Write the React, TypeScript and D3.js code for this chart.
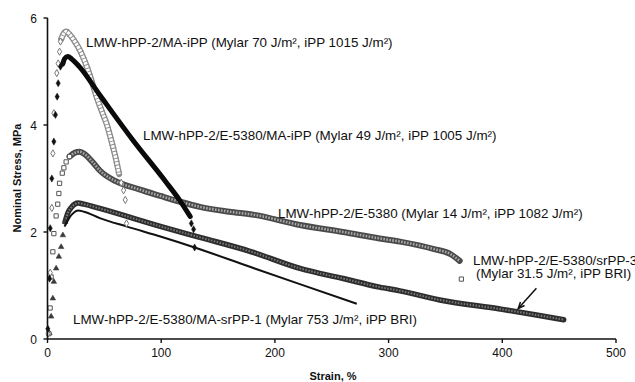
import React from 'react';
import * as d3 from 'd3';

type Pt = [number, number];

const W = 635;
const H = 382;

const strainTicks = [0, 100, 200, 300, 400, 500];
const stressTicks = [0, 2, 4, 6];

// LMW-hPP-2/MA-iPP — open diamonds
const maIppRise: Pt[] = [[0.5, 0.1], [2.4, 1.24], [3.8, 2.45], [4.7, 3.47], [5.6, 4.22], [8.2, 4.97], [9.4, 5.15], [10.6, 5.37], [11.4, 5.56]];
const maIppCurve: Pt[] = [[12, 5.6], [14, 5.7], [16.4, 5.75], [20, 5.68], [24, 5.56], [28, 5.42], [33, 5.18], [38, 4.88], [42, 4.6], [47, 4.3], [52, 4.02], [56, 3.72], [60, 3.38], [63, 3.08]];
const maIppTail: Pt[] = [[64.8, 2.92], [66.9, 2.78], [68.4, 2.6], [69.5, 2.16]];

// LMW-hPP-2/E-5380/MA-iPP — filled diamonds
const e5380MaIppRise: Pt[] = [[0.3, 0.19], [1.8, 1.13], [2.4, 2.07], [3.8, 3.0], [5.6, 3.69], [7.0, 4.19], [8.5, 4.53], [9.4, 4.78], [11.4, 5.09], [13.5, 5.15]];
const e5380MaIppCurve: Pt[] = [[13.5, 5.15], [15, 5.24], [17.9, 5.28], [21, 5.24], [28, 5.09], [46, 4.56], [75, 3.72], [104, 2.94], [116, 2.6], [125.5, 2.29]];
const e5380MaIppTail: Pt[] = [[126.5, 2.16], [128.5, 2.05], [129.4, 1.71]];

// LMW-hPP-2/E-5380 — open squares
const e5380Rise: Pt[] = [[1.2, 0.1], [2.3, 0.58], [3.2, 1.16], [4.7, 1.63], [5.6, 1.97], [7.6, 2.3], [9, 2.52], [10, 2.72], [10.6, 2.91], [13, 3.1], [14.4, 3.2], [16.4, 3.31], [19.4, 3.41]];
const e5380Curve: Pt[] = [[19.4, 3.41], [24, 3.48], [28, 3.5], [33, 3.45], [40, 3.3], [46, 3.15], [60, 2.95], [80, 2.8], [100, 2.67], [116, 2.57], [134, 2.47], [160, 2.38], [182, 2.32], [222, 2.13], [260, 2.0], [292, 1.88], [310, 1.82], [340, 1.68], [355, 1.58], [362.5, 1.46]];
const e5380Tail: Pt[] = [[364, 1.12]];

// LMW-hPP-2/E-5380/srPP-3 — open triangles
const srPP3Rise: Pt[] = [[1.7, 0.11], [3.2, 0.42], [4.7, 0.76], [5.6, 1.07], [7.6, 1.32], [10, 1.54], [12, 1.72], [13.5, 1.94], [15.5, 2.19]];
const srPP3Curve: Pt[] = [[15.5, 2.19], [18, 2.36], [21, 2.46], [24, 2.52], [27, 2.54], [32, 2.52], [46, 2.44], [100, 2.1], [134, 1.9], [178, 1.64], [222, 1.32], [260, 1.13], [292, 0.97], [310, 0.9], [345, 0.73], [398, 0.56], [430, 0.45], [454, 0.36]];

// LMW-hPP-2/E-5380/MA-srPP-1 — plain line
const maSrPP1Curve: Pt[] = [[15, 2.1], [19, 2.26], [23, 2.36], [27, 2.4], [32, 2.38], [46, 2.26], [70, 2.1], [100, 1.91], [129.4, 1.71], [178, 1.35], [220, 1.04], [272, 0.66]];

const seriesLabels = [
  { text: 'LMW-hPP-2/MA-iPP (Mylar 70 J/m², iPP 1015 J/m²)', x: 86, y: 47 },
  { text: 'LMW-hPP-2/E-5380/MA-iPP (Mylar 49 J/m², iPP 1005 J/m²)', x: 143, y: 140 },
  { text: 'LMW-hPP-2/E-5380 (Mylar 14 J/m², iPP 1082 J/m²)', x: 278, y: 218 },
  { text: 'LMW-hPP-2/E-5380/srPP-3', x: 473, y: 265 },
  { text: '(Mylar 31.5 J/m², iPP BRI)', x: 476, y: 278 },
  { text: 'LMW-hPP-2/E-5380/MA-srPP-1 (Mylar 753 J/m², iPP BRI)', x: 73, y: 324 },
];

// arrow from the srPP-3 label down to its curve, in data units
const arrowFrom: Pt = [430, 0.95];
const arrowTo: Pt = [414, 0.57];

const FONT = "'Liberation Sans', Arial, Helvetica, sans-serif";

export default function App() {
  const x = d3.scaleLinear().domain([0, 500]).range([47.5, 616]);
  const y = d3.scaleLinear().domain([0, 6]).range([339, 18]);

  const line = d3
    .line<Pt>()
    .x((d) => x(d[0]))
    .y((d) => y(d[1]))
    .curve(d3.curveMonotoneX);

  const diamond = d3.symbol(d3.symbolDiamond, 15)()!;
  const square = d3.symbol(d3.symbolSquare, 18)()!;
  const triangle = d3.symbol(d3.symbolTriangle, 13)()!;

  const marks = (pts: Pt[], path: string, fill: string, stroke: string, sw = 1) =>
    pts.map((d, i) => (
      <path key={i} d={path} transform={`translate(${x(d[0])},${y(d[1])})`} fill={fill} stroke={stroke} strokeWidth={sw} />
    ));

  const [ax1, ay1] = [x(arrowFrom[0]), y(arrowFrom[1])];
  const [ax2, ay2] = [x(arrowTo[0]), y(arrowTo[1])];
  const ang = Math.atan2(ay2 - ay1, ax2 - ax1);
  const head = 7;
  const headPts = [
    [ax2 - head * Math.cos(ang - 0.4), ay2 - head * Math.sin(ang - 0.4)],
    [ax2, ay2],
    [ax2 - head * Math.cos(ang + 0.4), ay2 - head * Math.sin(ang + 0.4)],
  ];

  return (
    <svg width={W} height={H} style={{ position: 'absolute', left: 0, top: 0, background: '#fff' }} fontFamily={FONT}>
      {/* srPP-3: dense triangles */}
      <path d={line(srPP3Curve)!} fill="none" stroke="#2e2e2e" strokeWidth={5.5} strokeLinecap="round" />
      <path d={line(srPP3Curve)!} fill="none" stroke="#7a7a7a" strokeWidth={2} strokeDasharray="1.5 1.5" />
      {marks(srPP3Rise, triangle, '#3a3a3a', '#3a3a3a', 0.6)}

      {/* MA-srPP-1: plain line */}
      <path d={line(maSrPP1Curve)!} fill="none" stroke="#111" strokeWidth={2} />

      {/* E-5380: dense squares */}
      <path d={line(e5380Curve)!} fill="none" stroke="#4a4a4a" strokeWidth={6} strokeLinecap="round" />
      <path d={line(e5380Curve)!} fill="none" stroke="#a8a8a8" strokeWidth={2.6} strokeDasharray="1.6 1.4" />
      {marks(e5380Rise, square, '#fff', '#555', 1)}
      {marks(e5380Tail, square, '#fff', '#555', 1)}

      {/* MA-iPP: dense open diamonds */}
      <path d={line(maIppCurve)!} fill="none" stroke="#8a8a8a" strokeWidth={6} strokeLinecap="round" />
      <path d={line(maIppCurve)!} fill="none" stroke="#fff" strokeWidth={3.4} />
      <path d={line(maIppCurve)!} fill="none" stroke="#8a8a8a" strokeWidth={6} strokeDasharray="0.9 2.6" />
      {marks(maIppRise, diamond, '#fff', '#777', 1)}
      {marks(maIppTail, diamond, '#fff', '#777', 1)}

      {/* E-5380/MA-iPP: dense filled diamonds */}
      <path d={line(e5380MaIppCurve)!} fill="none" stroke="#0a0a0a" strokeWidth={5} strokeLinecap="round" />
      {marks(e5380MaIppRise, diamond, '#111', '#111', 0.5)}
      {marks(e5380MaIppTail, diamond, '#111', '#111', 0.5)}

      {/* axes */}
      <line x1={x(0)} x2={x(500)} y1={y(0)} y2={y(0)} stroke="#111" strokeWidth={1.6} />
      <line x1={x(0)} x2={x(0)} y1={y(0)} y2={y(6)} stroke="#111" strokeWidth={1.6} />
      {strainTicks.map((t) => (
        <g key={`xt${t}`}>
          <line x1={x(t)} x2={x(t)} y1={y(0)} y2={y(0) + 4} stroke="#111" strokeWidth={1.4} />
          <text x={x(t)} y={357} textAnchor="middle" fontSize={12} fill="#111">{t}</text>
        </g>
      ))}
      {stressTicks.map((t) => (
        <g key={`yt${t}`}>
          <line x1={x(0) - 4} x2={x(0)} y1={y(t)} y2={y(t)} stroke="#111" strokeWidth={1.4} />
          <text x={37} y={y(t) + 4.5} textAnchor="end" fontSize={12} fill="#111">{t}</text>
        </g>
      ))}
      <text x={333} y={380} textAnchor="middle" fontSize={11} fontWeight="bold" fill="#111">Strain, %</text>
      <text transform={`translate(21,${178}) rotate(-90)`} textAnchor="middle" fontSize={11} fontWeight="bold" fill="#111">Nominal Stress, MPa</text>

      {/* series labels */}
      {seriesLabels.map((l, i) => (
        <text key={i} x={l.x} y={l.y} fontSize={13.4} fill="#111">{l.text}</text>
      ))}

      {/* arrow */}
      <line x1={ax1} y1={ay1} x2={ax2} y2={ay2} stroke="#111" strokeWidth={1.5} />
      <polyline points={headPts.map((p) => p.join(',')).join(' ')} fill="none" stroke="#111" strokeWidth={1.5} />
    </svg>
  );
}
